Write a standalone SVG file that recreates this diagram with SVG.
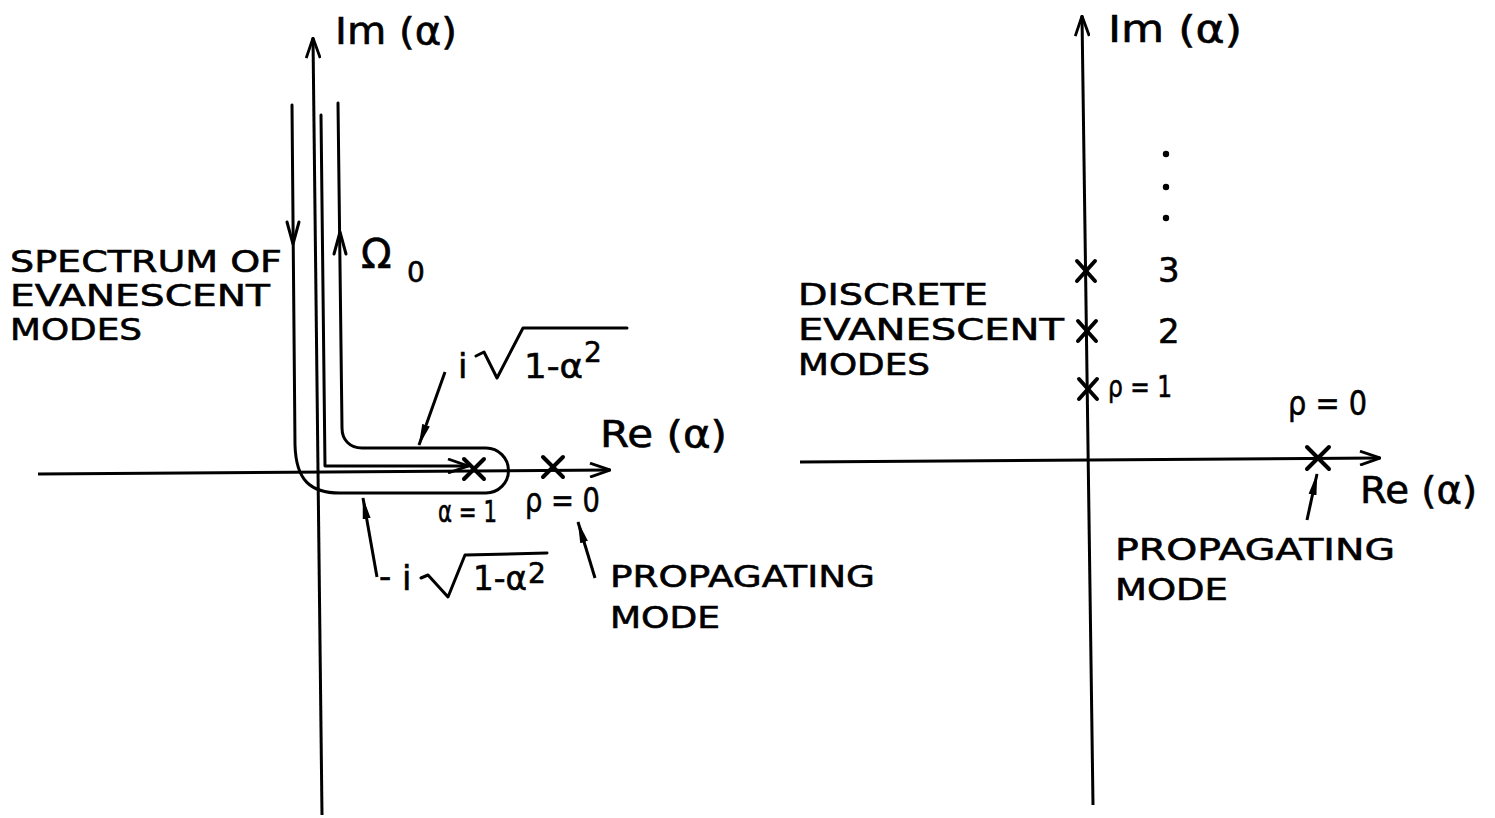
<svg xmlns="http://www.w3.org/2000/svg" width="1495" height="818" viewBox="0 0 1495 818">
<style>
.ax{fill:none;stroke:#000;stroke-width:3}
.ct{fill:none;stroke:#000;stroke-width:3;stroke-linejoin:round;stroke-linecap:round}
.cr{stroke:#000;stroke-width:4;stroke-linecap:round}
.ld{fill:none;stroke:#000;stroke-width:3}
text{font-family:"DejaVu Sans","Liberation Sans",sans-serif;fill:#000;stroke:#000;stroke-width:0.6}
.lb{font-size:30px}
.ax-t{font-size:38px}
.m{font-size:34px}
.sup{font-size:28px}
</style>
<defs>
<marker id="open" viewBox="0 0 22 16" refX="21" refY="8" markerWidth="22" markerHeight="16" markerUnits="userSpaceOnUse" orient="auto">
<path d="M1,1 L21,8 L1,15" fill="none" stroke="#000" stroke-width="2.8"/>
</marker>
<marker id="fill" viewBox="0 0 22 10" refX="21" refY="5" markerWidth="22" markerHeight="10" markerUnits="userSpaceOnUse" orient="auto">
<path d="M0,1 L22,5 L0,9 Z" fill="#000"/>
</marker>
</defs>

<g id="left-plane">
<path class="ax" d="M322,815 L313,38" marker-end="url(#open)"/>
<path class="ax" d="M38,474 L610,470" marker-end="url(#open)"/>
</g>

<g id="contour-omega0">
<path class="ct" d="M292,105 L295,445 C296,480 310,493 340,493 L486,493 A22.5,22.5 0 0 0 486,448 L362,448 C350,448 342,440 342,428 L338,103"/>
<polyline class="ct" points="287,222 293,244 299,222"/>
<polyline class="ct" points="334,254 340,232 346,254"/>
</g>

<g id="branch-cut">
<path class="ct" d="M321,115 L325,466 L468,466" marker-end="url(#open)"/>
</g>

<g id="pole-alpha1"><line class="cr" x1="464" y1="459" x2="484" y2="479"/><line class="cr" x1="484" y1="459" x2="464" y2="479"/></g>
<g id="pole-rho0-left"><line class="cr" x1="543" y1="457" x2="563" y2="477"/><line class="cr" x1="563" y1="457" x2="543" y2="477"/></g>

<g id="right-plane">
<path class="ax" d="M1093,805 L1082,16" marker-end="url(#open)"/>
<path class="ax" d="M800,462 L1380,458" marker-end="url(#open)"/>
</g>

<g id="pole-rho3"><line class="cr" x1="1077" y1="261" x2="1095" y2="281"/><line class="cr" x1="1095" y1="261" x2="1077" y2="281"/></g>
<g id="pole-rho2"><line class="cr" x1="1078" y1="321" x2="1096" y2="341"/><line class="cr" x1="1096" y1="321" x2="1078" y2="341"/></g>
<g id="pole-rho1"><line class="cr" x1="1079" y1="379" x2="1097" y2="399"/><line class="cr" x1="1097" y1="379" x2="1079" y2="399"/></g>
<g id="pole-rho0-right"><line class="cr" x1="1307" y1="447" x2="1329" y2="469"/><line class="cr" x1="1329" y1="447" x2="1307" y2="469"/></g>

<g id="dots">
<circle cx="1166" cy="154" r="3.2"/>
<circle cx="1166" cy="187" r="3.2"/>
<circle cx="1166" cy="218" r="3.2"/>
</g>

<g id="connectors">
<line class="ld" x1="445" y1="372" x2="419" y2="445" marker-end="url(#fill)"/>
<line class="ld" x1="377" y1="577" x2="363" y2="498" marker-end="url(#fill)"/>
<line class="ld" x1="595" y1="578" x2="578" y2="522" marker-end="url(#fill)"/>
<line class="ld" x1="1307" y1="520" x2="1317" y2="474" marker-end="url(#fill)"/>
</g>

<g id="labels-left">
<text class="ax-t" x="335" y="44" textLength="122" lengthAdjust="spacingAndGlyphs">Im (α)</text>
<text class="ax-t" x="600" y="447" textLength="127" lengthAdjust="spacingAndGlyphs">Re (α)</text>
<text class="lb" x="10" y="272" textLength="272" lengthAdjust="spacingAndGlyphs">SPECTRUM OF</text>
<text class="lb" x="10" y="306" textLength="260" lengthAdjust="spacingAndGlyphs">EVANESCENT</text>
<text class="lb" x="10" y="340" textLength="132" lengthAdjust="spacingAndGlyphs">MODES</text>
<text x="361" y="268" style="font-size:40px">Ω</text>
<text class="sup" x="407" y="282">0</text>
<g id="label-plus-root">
<text class="m" x="458" y="378">i</text>
<path class="ct" d="M476,356 L484,352 L497,378 L523,328 L627,328"/>
<text class="m" x="524" y="378" textLength="59" lengthAdjust="spacingAndGlyphs">1-α</text>
<text class="sup" x="584" y="362">2</text>
</g>
<g id="label-minus-root">
<text class="m" x="379" y="588">-</text>
<text class="m" x="402" y="590">i</text>
<path class="ct" d="M421,578 L428,575 L448,597 L465,555 L547,553"/>
<text class="m" x="473" y="590" textLength="54" lengthAdjust="spacingAndGlyphs">1-α</text>
<text class="sup" x="528" y="583">2</text>
</g>
<text class="lb" x="438" y="522" textLength="59" lengthAdjust="spacingAndGlyphs">α = 1</text>
<text class="m" x="525" y="512" textLength="75" lengthAdjust="spacingAndGlyphs">ρ = 0</text>
<text class="lb" x="610" y="587" textLength="265" lengthAdjust="spacingAndGlyphs">PROPAGATING</text>
<text class="lb" x="610" y="628" textLength="110" lengthAdjust="spacingAndGlyphs">MODE</text>
</g>

<g id="labels-right">
<text class="ax-t" x="1108" y="42" textLength="134" lengthAdjust="spacingAndGlyphs">Im (α)</text>
<text class="ax-t" x="1360" y="503" textLength="117" lengthAdjust="spacingAndGlyphs">Re (α)</text>
<text class="lb" x="798" y="305" textLength="190" lengthAdjust="spacingAndGlyphs">DISCRETE</text>
<text class="lb" x="798" y="340" textLength="266" lengthAdjust="spacingAndGlyphs">EVANESCENT</text>
<text class="lb" x="798" y="375" textLength="132" lengthAdjust="spacingAndGlyphs">MODES</text>
<text class="m" x="1158" y="282">3</text>
<text class="m" x="1158" y="343">2</text>
<text class="lb" x="1108" y="397" textLength="64" lengthAdjust="spacingAndGlyphs">ρ = 1</text>
<text class="m" x="1288" y="415" textLength="79" lengthAdjust="spacingAndGlyphs">ρ = 0</text>
<text class="lb" x="1115" y="560" textLength="280" lengthAdjust="spacingAndGlyphs">PROPAGATING</text>
<text class="lb" x="1115" y="600" textLength="113" lengthAdjust="spacingAndGlyphs">MODE</text>
</g>
</svg>
